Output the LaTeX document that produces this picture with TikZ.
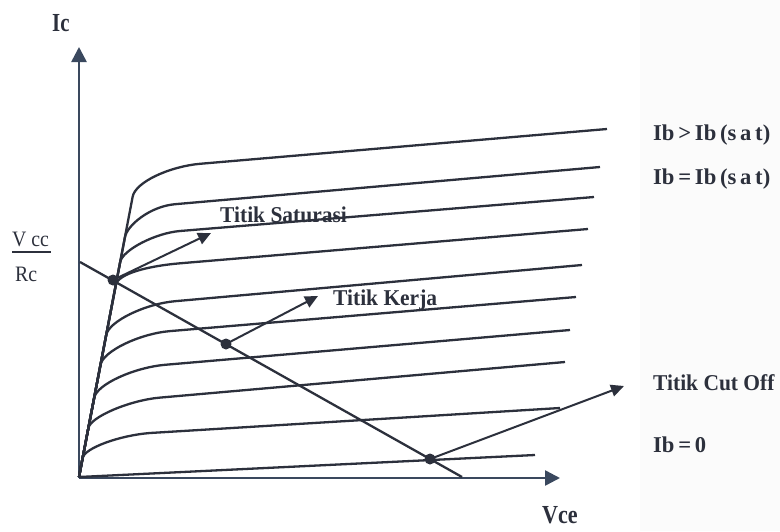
\documentclass[tikz,border=0pt]{standalone}
\usepackage{fontspec}
\setmainfont{Liberation Serif}
\usetikzlibrary{arrows.meta}
\definecolor{ink}{RGB}{44,48,60}
\definecolor{axisink}{RGB}{58,72,94}
% horizontally narrowed text, for the heavy condensed lettering
\newcommand{\narrow}[2]{\scalebox{#1}[1]{#2}}
\begin{document}
\begin{tikzpicture}[x=1pt,y=-1pt,
  curve/.style={draw=ink,line width=2.3pt,line join=round},
  axis/.style={draw=axisink,line width=2.6pt,-{Triangle[length=15pt,width=15pt]}},
  pointer/.style={draw=ink,line width=2pt,-{Triangle[length=13pt,width=12pt]}},
  dot/.style={circle,fill=ink,inner sep=0pt,minimum size=11pt},
  lbl/.style={font=\fontsize{22.6}{26}\selectfont\bfseries,text=ink,inner sep=0pt},
  big/.style={font=\fontsize{26}{30}\selectfont\bfseries,text=ink,inner sep=0pt},
  plain/.style={font=\fontsize{22}{26}\selectfont,text=ink,inner sep=0pt}]
\useasboundingbox (0,0) rectangle (780,531);
\fill[white] (0,0) rectangle (780,531);
\fill[black!1.5] (640,0) rectangle (780,531);

% axes
\coordinate (O) at (79,478);
\coordinate (ytop) at (79,47);
\coordinate (xend) at (560,478);
\draw[axis] (O) -- (ytop);
\draw[axis] (O) -- (xend);

% output characteristic curves, one per base current
\draw[curve] (79,477) -- (132.6,197) .. controls (135,182) and (170,166.4) .. (200,163.8) -- (607,129);
\draw[curve] (79,477) -- (125,237) .. controls (127.3,225.2) and (150,206.4) .. (175,204.2) -- (600,167);
\draw[curve] (79,477) -- (120.2,262) .. controls (122.4,250.2) and (155,233.1) .. (180,231) -- (594,197);
\draw[curve] (79,477) -- (115.8,285) .. controls (118.1,273.2) and (150,265.8) .. (180,263.3) -- (588,229);
\draw[curve] (79,477) -- (106.2,335) .. controls (108.8,321.3) and (145,303.9) .. (175,301.2) -- (582,265);
\draw[curve] (79,477) -- (100.4,365) .. controls (103,351) and (140,333.6) .. (170,331.1) -- (576,297);
\draw[curve] (79,477) -- (94.1,398) .. controls (96.7,384) and (135,367.4) .. (165,364.8) -- (570,330);
\draw[curve] (79,477) -- (88.4,428) .. controls (90.6,416.7) and (130,400.2) .. (160,397.6) -- (565,362);
\draw[curve] (79,477) -- (82.6,458) .. controls (84.5,448) and (120,435.3) .. (150,433) -- (560,408);
\draw[curve] (79,477) -- (535,455);

% load line
\coordinate (lltop) at (80,262);
\coordinate (llend) at (462,477);
\draw[curve] (lltop) -- (llend);

% operating points
\node[dot] (dsat) at (113,280) {};
\node[dot] (dq) at (226,344) {};
\node[dot] (dcut) at (430,459) {};

\coordinate (tsat) at (211,233);
\coordinate (tq) at (318,296);
\coordinate (tcut) at (624,386);
\draw[pointer] (dsat.center) -- (tsat);
\draw[pointer] (dq.center) -- (tq);
\draw[pointer] (dcut.center) -- (tcut);

% labels
\node[big,anchor=base west] (ic) at (52,31) {\narrow{0.8}{Ic}};
\node[big,anchor=base west] (vce) at (542,523) {\narrow{0.85}{Vce}};
\node[lbl,anchor=base west] (lsat) at (220,222) {\narrow{0.95}{Titik Saturasi}};
\node[lbl,anchor=base west] (lq) at (333,305) {\narrow{0.95}{Titik Kerja}};
\node[lbl,anchor=base west] (lcut) at (653,390) {\narrow{0.95}{Titik Cut Off}};
\node[lbl,anchor=base west] (ibgt) at (653,140) {Ib\,>\,Ib\,(s\,a\,t)};
\node[lbl,anchor=base west] (ibeq) at (653,184) {Ib\,=\,Ib\,(s\,a\,t)};
\node[lbl,anchor=base west] (ib0) at (653,452) {Ib\,=\,0};

\node[plain,anchor=base west] (vcc) at (12,246) {\narrow{0.9}{V cc}};
\node[plain,anchor=base west] (rc) at (15,281) {\narrow{0.9}{Rc}};
\draw[ink,line width=1.4pt] (12,252) -- (51,252);
\end{tikzpicture}
\end{document}
